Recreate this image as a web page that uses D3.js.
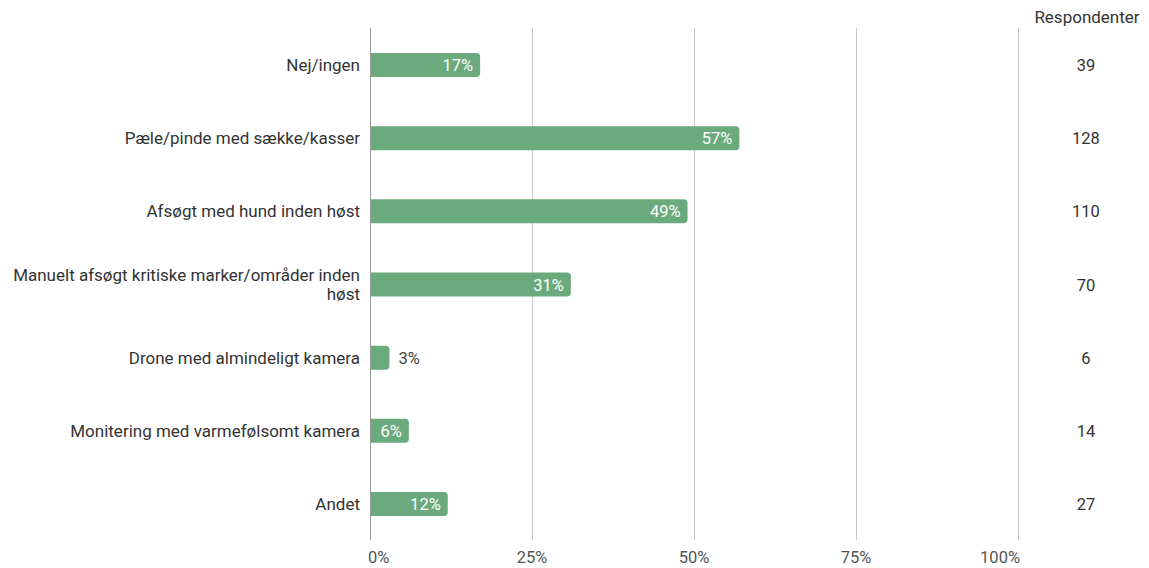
<!DOCTYPE html>
<html>
<head>
<meta charset="utf-8">
<script src="https://cdn.jsdelivr.net/npm/d3@7"></script>
<style>
  html, body { margin: 0; padding: 0; background: #fff; }
  svg { display: block; font-family: Roboto, "Noto Sans", sans-serif; }
</style>
</head>
<body>
<svg id="chart" width="1149" height="568"></svg>
<script>
// Survey answers, share of respondents and respondent counts
const categories = [
  ["Nej/ingen"],
  ["Pæle/pinde med sække/kasser"],
  ["Afsøgt med hund inden høst"],
  ["Manuelt afsøgt kritiske marker/områder inden", "høst"],
  ["Drone med almindeligt kamera"],
  ["Monitering med varmefølsomt kamera"],
  ["Andet"]
];
const shares = [17, 57, 49, 31, 3, 6, 12];
const respondents = [39, 128, 110, 70, 6, 14, 27];
const tickValues = [0, 25, 50, 75, 100];
const countHeader = "Respondenter";

const svg = d3.select("#chart");
const plotLeft = 370, plotRight = 1018, plotTop = 28, plotBottom = 540;
const fs = 17;

const x = d3.scaleLinear().domain([0, 100]).range([plotLeft, plotRight]);
const y = d3.scaleBand().domain(d3.range(categories.length)).range([plotTop, plotBottom + 1]).paddingInner(0.67).paddingOuter(0.34);

// Vertical gridlines
svg.append("g").selectAll("line").data(tickValues).join("line")
  .attr("x1", d => x(d) + 0.5).attr("x2", d => x(d) + 0.5)
  .attr("y1", plotTop).attr("y2", plotBottom)
  .attr("stroke", d => d === 0 ? "#9a9a9a" : "#c8c8c8")
  .attr("stroke-width", 1);

// Tick labels: first one starts at its tick, last one ends at it
const last = tickValues.length - 1;
svg.append("g").selectAll("text").data(tickValues).join("text")
  .attr("x", (d, i) => x(d) + (i === 0 ? -2 : i === last ? 2 : 0))
  .attr("y", 563)
  .attr("text-anchor", (d, i) => i === 0 ? "start" : i === last ? "end" : "middle")
  .attr("font-size", fs - 0.5).attr("fill", "#555")
  .text(d => d + "%");

// Bars with rounded right end
const bh = 24, r = 4;
function barPath(x0, x1, yc) {
  const t = yc - bh / 2, b = yc + bh / 2;
  const rr = Math.min(r, (x1 - x0) / 2);
  return `M${x0},${t}H${x1 - rr}Q${x1},${t} ${x1},${t + rr}V${b - rr}Q${x1},${b} ${x1 - rr},${b}H${x0}Z`;
}
const yc = i => y(i) + y.bandwidth() / 2;

svg.append("g").selectAll("path").data(shares).join("path")
  .attr("d", (d, i) => barPath(x(0) + 1, x(d), yc(i)))
  .attr("fill", "#6aaa7d");

// Value labels: inside when the bar is wide enough, outside otherwise
svg.append("g").selectAll("text").data(shares).join("text")
  .attr("x", (d, i) => d >= 5 ? x(d) - 7 : x(d) + 9)
  .attr("y", (d, i) => yc(i) + 6)
  .attr("text-anchor", d => d >= 5 ? "end" : "start")
  .attr("font-size", fs - 0.5)
  .attr("fill", d => d >= 5 ? "#fff" : "#444")
  .text(d => d + "%");

// Category labels
const catG = svg.append("g").selectAll("text").data(categories).join("text")
  .attr("text-anchor", "end")
  .attr("font-size", fs).attr("fill", "#333");
catG.each(function(lines, i) {
  const t = d3.select(this);
  const y0 = yc(i) + 6 - (lines.length - 1) * 9.5;
  lines.forEach((ln, j) => {
    t.append("tspan").attr("x", 360).attr("y", y0 + j * 19).text(ln);
  });
});

// Respondent counts
svg.append("text")
  .attr("x", 1087).attr("y", 23)
  .attr("text-anchor", "middle")
  .attr("font-size", fs).attr("fill", "#333")
  .text(countHeader);
svg.append("g").selectAll("text").data(respondents).join("text")
  .attr("x", 1086).attr("y", (d, i) => yc(i) + 6)
  .attr("text-anchor", "middle")
  .attr("font-size", fs - 0.5).attr("fill", "#333")
  .text(d => d);
</script>
</body>
</html>
